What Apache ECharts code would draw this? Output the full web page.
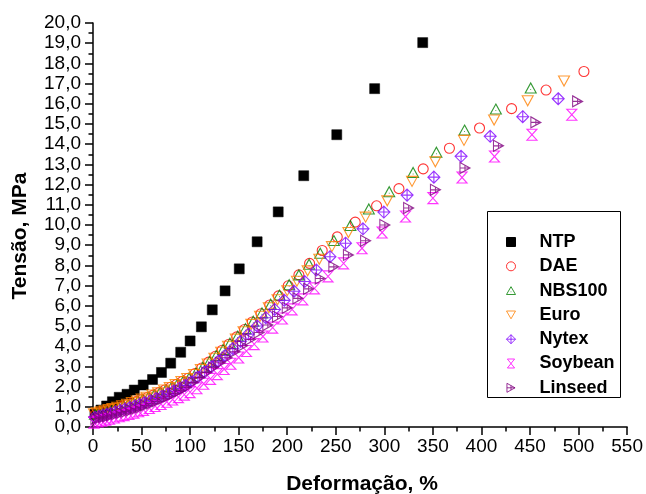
<!DOCTYPE html>
<html><head><meta charset="utf-8">
<script src="https://cdn.jsdelivr.net/npm/echarts@6/dist/echarts.min.js"></script>
<style>html,body{margin:0;padding:0;background:#fff}#c{width:646px;height:494px}</style>
</head><body><div id="c"></div>
<script>
const xTitle = 'Deformação, %';
const yTitle = 'Tensão, MPa';
const seriesNames = ['NTP', 'DAE', 'NBS100', 'Euro', 'Nytex', 'Soybean', 'Linseed'];
const xMin = 0, xMax = 550, xStep = 50;
const yMin = 0, yMax = 20, yStep = 1;

const ntp = [[2,0.64],[8.2,0.84],[14,1.04],[20,1.25],[27,1.47],[35,1.62],[42.5,1.83],[51.7,2.08],[61.3,2.35],[70.5,2.7],[80,3.16],[90.3,3.7],[100,4.26],[111.6,4.96],[122.8,5.8],[136,6.74],[150.6,7.83],[169,9.17],[190.7,10.65],[217,12.44],[251,14.47],[290,16.75],[339.5,19.03]];

const dae = [[3,0.64],[7,0.70],[11,0.75],[15,0.8],[20,0.87],[25,0.95],[30,1.02],[35,1.1],[40,1.18],[45,1.27],[50,1.35],[56,1.46],[62,1.58],[68,1.7],[74,1.83],[80,1.97],[86,2.11],[92,2.26],[98,2.41],[105,2.64],[112,2.92],[119,3.21],[126,3.5],[133,3.8],[140,4.1],[148,4.46],[156,4.83],[164,5.2],[173,5.61],[182,6.04],[191,6.49],[201,6.99],[212,7.53],[223,8.1],[236,8.74],[251.5,9.41],[270,10.14],[292,10.95],[315,11.8],[340,12.78],[367,13.8],[398,14.8],[431,15.76],[466.5,16.68],[505.5,17.6]];

const nbs100 = [[2,0.63],[5,0.67],[9,0.72],[13,0.78],[17,0.83],[21,0.89],[26,0.96],[31,1.03],[36,1.11],[41,1.19],[46,1.28],[51,1.37],[57,1.48],[63,1.6],[69,1.72],[75,1.85],[81,1.99],[87,2.13],[93,2.28],[99,2.43],[106,2.68],[113,2.96],[120,3.25],[127,3.54],[134,3.84],[141,4.15],[149,4.5],[157,4.87],[165,5.24],[174,5.65],[183,6.08],[192,6.53],[202,7.04],[212,7.53],[222.5,8.06],[234,8.6],[248,9.23],[265,9.98],[284,10.79],[305,11.65],[329.6,12.6],[353.6,13.6],[382.6,14.7],[414.8,15.74],[450.7,16.78]];

const euro = [[1,0.66],[4,0.70],[8,0.75],[12,0.8],[16,0.86],[20,0.91],[25,0.98],[30,1.05],[35,1.13],[40,1.21],[45,1.29],[50,1.38],[55,1.47],[61,1.58],[67,1.7],[73,1.83],[79,1.96],[85,2.1],[91,2.25],[97,2.4],[104,2.6],[111,2.85],[118,3.12],[125,3.4],[132,3.7],[139,4.0],[147,4.35],[155,4.72],[163,5.08],[172,5.48],[181,5.9],[190,6.3],[200,6.75],[210,7.22],[221,7.73],[233,8.3],[246,8.93],[263,9.63],[280.7,10.39],[303,11.2],[328.5,12.16],[352.5,13.13],[382,14.19],[413,15.2],[447.6,16.15],[485,17.13]];

const nytex = [[2,0.48],[6,0.53],[10,0.58],[14,0.63],[18,0.68],[23,0.75],[28,0.82],[33,0.89],[38,0.96],[43,1.04],[48,1.12],[53,1.2],[59,1.3],[65,1.41],[71,1.52],[77,1.64],[83,1.78],[89,1.92],[95,2.06],[101,2.23],[108,2.47],[115,2.72],[122,2.98],[129,3.26],[136,3.54],[144,3.88],[152,4.24],[160,4.6],[169,5.0],[178,5.41],[187,5.82],[197,6.27],[207,6.72],[218,7.2],[230,7.77],[244,8.43],[260,9.1],[278,9.81],[299.5,10.64],[323.4,11.48],[351,12.37],[379,13.4],[409,14.39],[442.5,15.36],[479,16.25]];

const soybean = [[1,0.22],[5,0.27],[9,0.31],[13,0.36],[17,0.41],[22,0.47],[27,0.53],[32,0.59],[37,0.65],[42,0.71],[47,0.78],[52,0.85],[58,0.94],[64,1.04],[70,1.14],[76,1.25],[82,1.36],[88,1.48],[94,1.6],[100,1.73],[107,1.92],[114,2.14],[121,2.38],[128,2.62],[135,2.87],[142,3.13],[150,3.44],[158,3.76],[166,4.1],[175,4.48],[185,4.92],[195,5.37],[205,5.82],[216,6.32],[228,6.86],[242,7.46],[258,8.1],[277,8.85],[297.7,9.63],[321.8,10.42],[350,11.33],[380,12.35],[413.4,13.39],[452,14.47],[493,15.46]];

const linseed = [[3,0.41],[7,0.45],[11,0.49],[15,0.53],[19,0.58],[24,0.64],[29,0.7],[34,0.76],[39,0.83],[44,0.9],[49,0.98],[54,1.06],[60,1.16],[66,1.27],[72,1.39],[78,1.52],[84,1.66],[90,1.8],[96,1.96],[103,2.2],[110,2.45],[117,2.7],[124,2.94],[131,3.18],[138,3.43],[146,3.72],[154,4.02],[162,4.33],[171,4.68],[180,5.05],[190,5.47],[200,5.9],[211,6.37],[222,6.84],[234,7.35],[248,7.93],[263,8.52],[280.7,9.22],[300.5,10.0],[325,10.84],[352.6,11.74],[383,12.82],[417.5,13.92],[456,15.08],[499,16.12]];

const FONT = '"Liberation Sans", Arial, Helvetica, sans-serif';
const chart = echarts.init(document.getElementById('c'), null, {renderer: 'canvas'});

function hollow(color) {
  return {color: 'rgba(0,0,0,0)', borderColor: color, borderWidth: 1.1};
}
const styles = [
  {data: ntp, symbol: 'path://M0,0L10,0L10,10L0,10Z', size: 10, item: {color: '#000000', borderColor: '#000000', borderWidth: 0.5, opacity: 1}},
  {data: dae, symbol: 'circle', size: 10, item: hollow('#ff0000')},
  {data: nbs100, symbol: 'path://M0,-10L10,7.32L-10,7.32Z M-0.7,1.3L0.7,1.3', size: [11, 10], item: hollow('#008000')},
  {data: euro, symbol: 'path://M-10,-7.32L10,-7.32L0,10Z', size: [11, 10], item: hollow('#ff8000')},
  {data: nytex, symbol: 'path://M0,-10L10,0L0,10L-10,0Z M0,-10L0,10 M-10,0L10,0', size: 12, item: hollow('#8000ff')},
  {data: soybean, symbol: 'path://M-8,-10L8,-10L-8,10L8,10Z', size: [10, 11], item: hollow('#ff00ff')},
  {data: linseed, symbol: 'path://M-8,-10L10,0L-8,10Z M-8,0L10,0 M1,-5L1,5', size: [10, 11], item: hollow('#800080')}
];

const axisCommon = {
  type: 'value',
  axisLine: {show: true, onZero: false, lineStyle: {color: '#000', width: 1.5}},
  axisTick: {show: true, length: 8, lineStyle: {color: '#000', width: 1.5}},
  minorTick: {show: true, splitNumber: 2, length: 4.5, lineStyle: {color: '#000', width: 1.5}},
  splitLine: {show: false},
  minorSplitLine: {show: false}
};

chart.setOption({
  animation: false,
  backgroundColor: '#fff',
  grid: {left: 93, right: 17, top: 23, bottom: 67, containLabel: false},
  xAxis: Object.assign({}, axisCommon, {
    min: xMin, max: xMax, interval: xStep,
    axisLabel: {fontSize: 19, color: '#000', margin: 10, fontFamily: FONT}
  }),
  yAxis: Object.assign({}, axisCommon, {
    min: yMin, max: yMax, interval: yStep,
    axisLabel: {fontSize: 19, color: '#000', margin: 12, fontFamily: FONT,
      formatter: v => v.toFixed(1).replace('.', ',')}
  }),
  legend: {
    orient: 'vertical', left: 506, top: 233, padding: 0,
    itemWidth: 9, itemHeight: 9, itemGap: 6.3,
    selectedMode: false,
    itemStyle: {borderWidth: 1},
    textStyle: {fontSize: 18, fontWeight: 'bold', color: '#000', fontFamily: FONT, lineHeight: 18, padding: [0, 0, 0, 19]},
    data: seriesNames
  },
  graphic: [
    {type: 'rect', shape: {x: 487.5, y: 211.5, width: 133, height: 186}, style: {fill: 'none', stroke: '#000', lineWidth: 1}, z: 100},
    {type: 'text', x: 362, y: 484, style: {text: xTitle, font: 'bold 21px ' + FONT, fill: '#000', textAlign: 'center', textVerticalAlign: 'middle'}},
    {type: 'text', x: 20, y: 236, rotation: Math.PI / 2, style: {text: yTitle, font: 'bold 21px ' + FONT, fill: '#000', textAlign: 'center', textVerticalAlign: 'middle'}}
  ],
  series: seriesNames.map((n, i) => ({
    name: n, type: 'scatter', data: styles[i].data,
    symbol: styles[i].symbol, symbolSize: styles[i].size,
    itemStyle: styles[i].item,
    emphasis: {disabled: true}, silent: true
  }))
});
</script>
</body></html>
